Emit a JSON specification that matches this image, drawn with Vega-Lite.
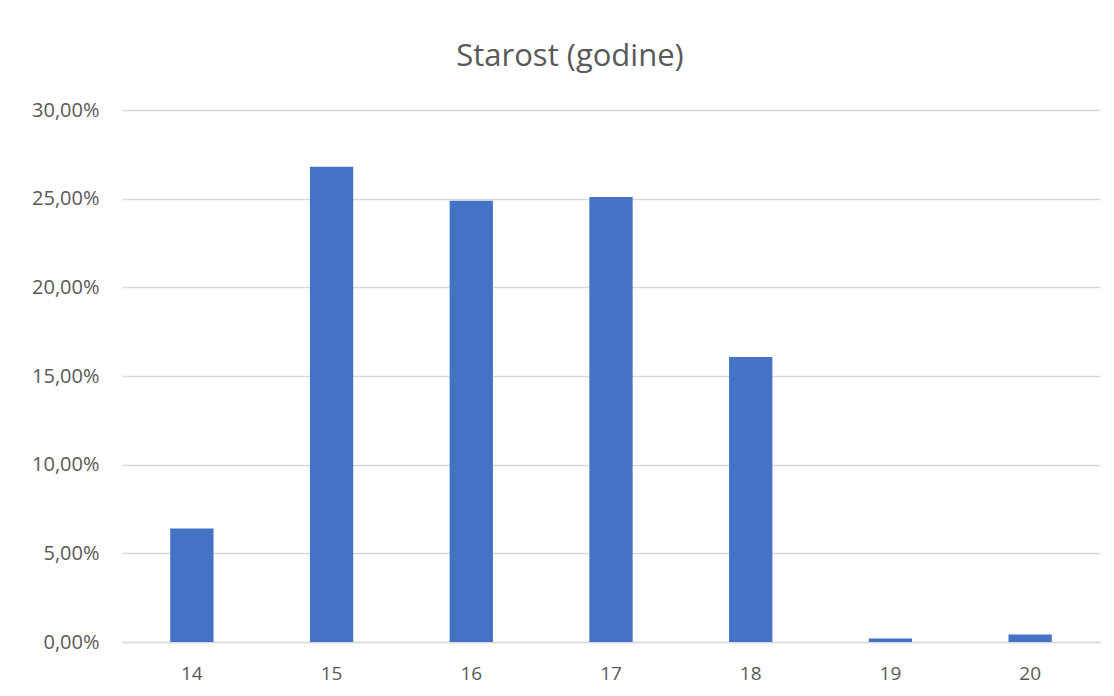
{
  "$schema": "https://vega.github.io/schema/vega-lite/v6.json",
  "width": 978,
  "height": 532,
  "autosize": {"type": "none"},
  "padding": {"left": 122, "top": 110, "right": 14, "bottom": 54},
  "background": "white",
  "config": {
    "locale": {"number": {"decimal": ",", "thousands": ".", "grouping": [3], "currency": ["", " €"]}},
    "view": {"stroke": null},
    "font": "Open Sans"
  },
  "title": {
    "text": "Starost (godine)",
    "fontSize": 31,
    "font": "Open Sans",
    "fontWeight": "normal",
    "color": "#595959",
    "anchor": "middle",
    "dx": -41,
    "offset": 27
  },
  "data": {
    "values": [
      {"starost": "14", "udio": 0.064},
      {"starost": "15", "udio": 0.268},
      {"starost": "16", "udio": 0.2488},
      {"starost": "17", "udio": 0.251},
      {"starost": "18", "udio": 0.1607},
      {"starost": "19", "udio": 0.002},
      {"starost": "20", "udio": 0.0042}
    ]
  },
  "mark": {"type": "bar", "color": "#4472C4"},
  "encoding": {
    "x": {
      "field": "starost",
      "type": "ordinal",
      "title": null,
      "scale": {"paddingInner": 0.69, "paddingOuter": 0.345},
      "axis": {
        "labelAngle": 0,
        "labelFontSize": 19,
        "labelColor": "#595959",
        "labelPadding": 31,
        "labelBaseline": "middle",
        "ticks": false,
        "domainColor": "#d9d9d9",
        "domainWidth": 1.5,
        "labelFont": "Open Sans"
      }
    },
    "y": {
      "field": "udio",
      "type": "quantitative",
      "title": null,
      "scale": {"domain": [0, 0.3]},
      "axis": {
        "format": ".2%",
        "values": [0, 0.05, 0.1, 0.15, 0.2, 0.25, 0.3],
        "labelFontSize": 20,
        "labelColor": "#595959",
        "labelPadding": 23,
        "ticks": false,
        "domain": false,
        "gridColor": "#d9d9d9",
        "gridWidth": 1.5,
        "labelFont": "Open Sans"
      }
    }
  }
}
